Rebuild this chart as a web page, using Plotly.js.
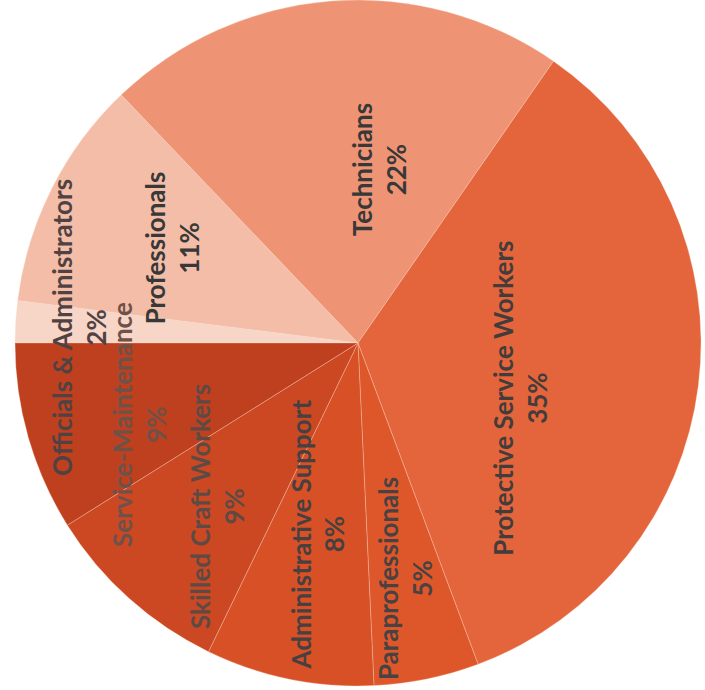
<!DOCTYPE html>
<html><head><meta charset="utf-8">
<script src="https://cdn.plot.ly/plotly-3.0.1.min.js"></script>
<style>html,body{margin:0;padding:0;background:#fff;overflow:hidden}#chart{width:705px;height:690px}</style>
</head><body><div id="chart"></div>
<script>
// ---- data ----
const categories = ["Officials & Administrators","Professionals","Technicians","Protective Service Workers","Paraprofessionals","Administrative Support","Skilled Craft Workers","Service-Maintenance"];
const shares = [2, 11, 22, 35, 5, 8, 9, 9];

// ---- styling / label placement ----
const sliceColors = ["#F7D5C7","#F3BDA7","#EE9475","#E4653C","#DE572A","#D85026","#CC4823","#BF401F"];
const labelR = [0.815, 0.61, 0.51, 0.50, 0.70, 0.57, 0.63, 0.68];      // fraction of radius
const labelShift = [-0.3, 0.4, 11.6, 11.7, 0.4, 0.2, -1.2, -4.4];      // degrees clockwise from slice middle
const labelColors = ["#504242","#383838","#383838","#433c3a","#484242","#474040","#5e4a45","#6e5148"];

const W = 705, H = 690;
const domX = [0.0156, 1], domY = [0.0058, 1];
const cx = (domX[0] + domX[1]) / 2 * W;
const cy = (1 - (domY[0] + domY[1]) / 2) * H;
const R = Math.min((domX[1] - domX[0]) * W, (domY[1] - domY[0]) * H) / 2;
const rotation = -90;
const total = shares.reduce((a, b) => a + b, 0);

let cum = 0;
const annotations = shares.map((v, i) => {
  const midFrac = (cum + v / 2) / total; cum += v;
  const ang = (rotation + midFrac * 360 + labelShift[i]) * Math.PI / 180;
  const px = cx + R * labelR[i] * Math.sin(ang);
  const py = cy - R * labelR[i] * Math.cos(ang);
  return {
    x: px / W, y: 1 - py / H, xref: 'paper', yref: 'paper',
    xanchor: 'center', yanchor: 'middle', showarrow: false, textangle: -90,
    text: categories[i] + '<br>' + v + '%',
    font: {family: 'Lato, "Open Sans", sans-serif', size: 26, weight: 'bold', color: labelColors[i]}
  };
});

const trace = {
  type: 'pie', values: shares, labels: categories, sort: false,
  direction: 'clockwise', rotation: rotation,
  marker: {colors: sliceColors, line: {color: 'rgba(255,225,210,0.3)', width: 1}},
  textinfo: 'none', hoverinfo: 'skip', showlegend: false,
  domain: {x: domX, y: domY}
};

Plotly.newPlot('chart', [trace], {
  width: W, height: H, margin: {l: 0, r: 0, t: 0, b: 0, pad: 0},
  paper_bgcolor: '#fff', plot_bgcolor: '#fff', showlegend: false,
  annotations: annotations
}, {displayModeBar: false, staticPlot: true});
</script></body></html>
